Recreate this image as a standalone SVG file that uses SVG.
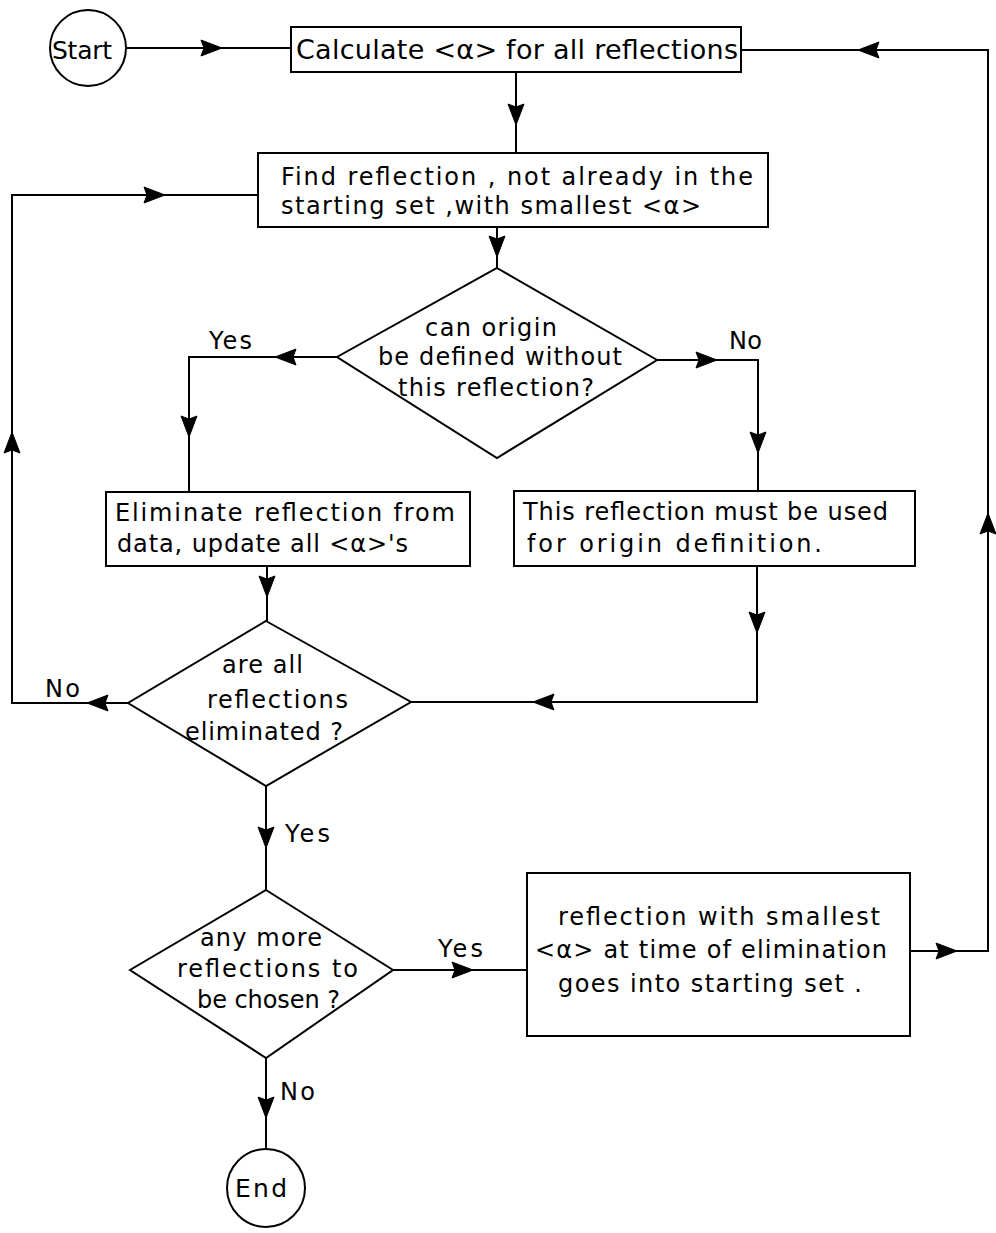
<svg xmlns="http://www.w3.org/2000/svg" width="996" height="1233" viewBox="0 0 996 1233">
<style>
.s{fill:#fff;stroke:#000;stroke-width:2}
.c{fill:none;stroke:#000;stroke-width:2}
text{font-family:"DejaVu Sans","Liberation Sans",sans-serif;font-size:24px;fill:#000}
</style>
<defs>
<marker id="ah" markerWidth="24" markerHeight="20" viewBox="-23 -10 24 20" refX="0" refY="0" orient="auto" markerUnits="userSpaceOnUse">
<path d="M0,0 L-21,-8 L-18,0 L-21,8 Z" fill="#000" stroke="#000" stroke-width="1" stroke-linejoin="round"/>
</marker>
</defs>
<rect width="996" height="1233" fill="#fff"/>
<g id="connectors">
<path class="c" d="M126,48 L222,48" marker-end="url(#ah)"/>
<path class="c" d="M222,48 L291,48"/>
<path class="c" d="M516,72 L516,125" marker-end="url(#ah)"/>
<path class="c" d="M516,125 L516,153"/>
<path class="c" d="M910,951 L957,951" marker-end="url(#ah)"/>
<path class="c" d="M957,951 L988,951 L988,513" marker-end="url(#ah)"/>
<path class="c" d="M988,513 L988,50 L858,50" marker-end="url(#ah)"/>
<path class="c" d="M858,50 L741,50"/>
<path class="c" d="M497,227 L497,257" marker-end="url(#ah)"/>
<path class="c" d="M497,257 L497,268"/>
<path class="c" d="M337,357 L275,357" marker-end="url(#ah)"/>
<path class="c" d="M275,357 L189,357 L189,437" marker-end="url(#ah)"/>
<path class="c" d="M189,437 L189,492"/>
<path class="c" d="M657,360 L717,360" marker-end="url(#ah)"/>
<path class="c" d="M717,360 L758,360 L758,453" marker-end="url(#ah)"/>
<path class="c" d="M758,453 L758,491"/>
<path class="c" d="M267,566 L267,597" marker-end="url(#ah)"/>
<path class="c" d="M267,597 L267,621"/>
<path class="c" d="M757,566 L757,633" marker-end="url(#ah)"/>
<path class="c" d="M757,633 L757,702 L533,702" marker-end="url(#ah)"/>
<path class="c" d="M533,702 L411,702"/>
<path class="c" d="M128,703 L87,703" marker-end="url(#ah)"/>
<path class="c" d="M87,703 L12,703 L12,432" marker-end="url(#ah)"/>
<path class="c" d="M12,432 L12,195 L165,195" marker-end="url(#ah)"/>
<path class="c" d="M165,195 L258,195"/>
<path class="c" d="M266,786 L266,848" marker-end="url(#ah)"/>
<path class="c" d="M266,848 L266,890"/>
<path class="c" d="M393,970 L473,970" marker-end="url(#ah)"/>
<path class="c" d="M473,970 L527,970"/>
<path class="c" d="M266,1058 L266,1118" marker-end="url(#ah)"/>
<path class="c" d="M266,1118 L266,1149"/>
</g>
<g id="labels">
<text x="209" y="349" textLength="43">Yes</text>
<text x="729" y="349" textLength="33">No</text>
<text x="45" y="697" textLength="35">No</text>
<text x="285" y="842" textLength="45">Yes</text>
<text x="438" y="957" textLength="45">Yes</text>
<text x="280" y="1100" textLength="35">No</text>
</g>
<g id="start">
<circle class="s" cx="88" cy="48" r="38"/>
<text x="52" y="59" textLength="60" style="font-size:25px">Start</text>
</g>
<g id="calc">
<rect class="s" x="291" y="27" width="450" height="45"/>
<text x="296" y="59" textLength="442" style="font-size:27px">Calculate &lt;α&gt; for all reflections</text>
</g>
<g id="find">
<rect class="s" x="258" y="153" width="510" height="74"/>
<text x="281" y="185" textLength="472">Find reflection , not already in the</text>
<text x="281" y="214" textLength="420">starting set ,with smallest &lt;α&gt;</text>
</g>
<g id="decision-origin">
<polygon class="s" points="497,268 657,360 497,458 337,357"/>
<text x="425" y="336" textLength="132">can origin</text>
<text x="378" y="365" textLength="244">be defined without</text>
<text x="398" y="396" textLength="196">this reflection?</text>
</g>
<g id="eliminate">
<rect class="s" x="106" y="492" width="364" height="74"/>
<text x="115" y="521" textLength="340">Eliminate reflection from</text>
<text x="117" y="552" textLength="291">data, update all &lt;α&gt;'s</text>
</g>
<g id="origin-def">
<rect class="s" x="514" y="491" width="401" height="75"/>
<text x="523" y="520" textLength="365">This reflection must be used</text>
<text x="527" y="552" textLength="295">for origin definition.</text>
</g>
<g id="decision-eliminated">
<polygon class="s" points="266,621 411,702 266,786 128,703"/>
<text x="222" y="673" textLength="81">are all</text>
<text x="207" y="708" textLength="141">reflections</text>
<text x="185" y="740" textLength="158">eliminated ?</text>
</g>
<g id="decision-more">
<polygon class="s" points="266,890 393,970 266,1058 130,970"/>
<text x="200" y="946" textLength="122">any more</text>
<text x="177" y="977" textLength="181">reflections to</text>
<text x="197" y="1008" textLength="143">be chosen ?</text>
</g>
<g id="starting-set">
<rect class="s" x="527" y="873" width="383" height="163"/>
<text x="558" y="925" textLength="322">reflection with smallest</text>
<text x="535" y="958" textLength="352">&lt;α&gt; at time of elimination</text>
<text x="558" y="992" textLength="304">goes into starting set .</text>
</g>
<g id="end">
<circle class="s" cx="266" cy="1188" r="39"/>
<text x="235" y="1197" textLength="52" style="font-size:25px">End</text>
</g>
</svg>
